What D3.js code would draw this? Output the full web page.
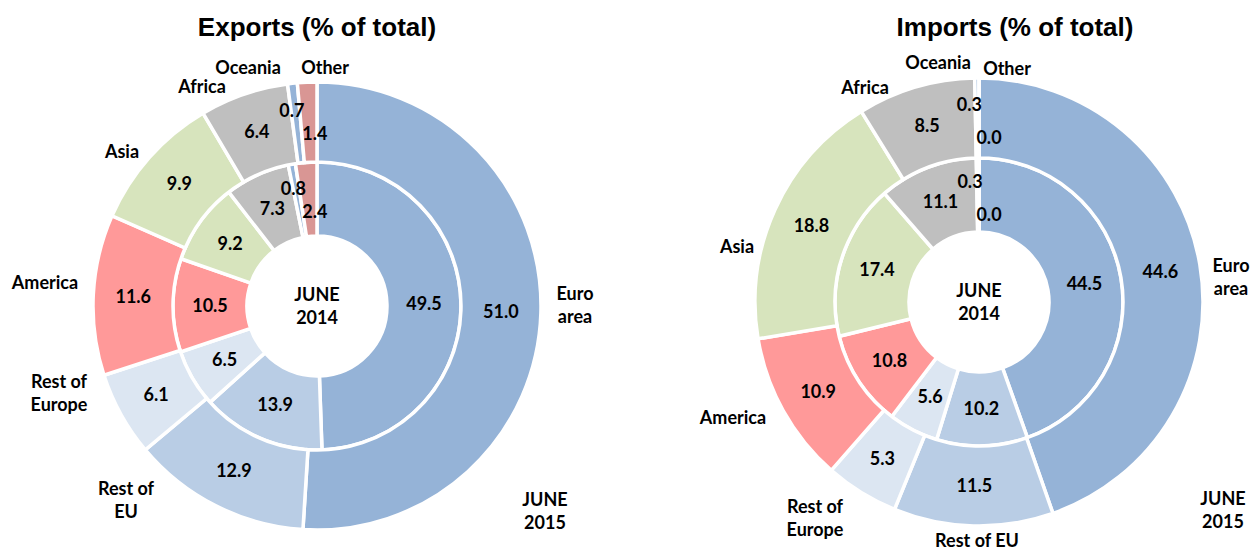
<!DOCTYPE html>
<html>
<head>
<meta charset="utf-8">
<script src="https://cdn.jsdelivr.net/npm/d3@7"></script>
<style>
  body { margin: 0; background: #fff; }
  text { font-family: Lato, "Open Sans", sans-serif; font-weight: bold; fill: #000; }
  .title { font-family: "Liberation Sans", Arial, sans-serif; font-size: 26px; }
</style>
</head>
<body>
<svg id="chart" width="1254" height="551"></svg>
<script>
// data
const categories = ['Euro area', 'Rest of EU', 'Rest of Europe', 'America', 'Asia', 'Africa', 'Oceania', 'Other'];
const exports2014 = [49.5, 13.9, 6.5, 10.5, 9.2, 7.3, 0.8, 2.4];
const exports2015 = [51.0, 12.9, 6.1, 11.6, 9.9, 6.4, 0.7, 1.4];
const imports2014 = [44.5, 10.2, 5.6, 10.8, 17.4, 11.1, 0.3, 0.0];
const imports2015 = [44.6, 11.5, 5.3, 10.9, 18.8, 8.5, 0.3, 0.0];
const exportNames = ['Euro\narea', 'Rest of\nEU', 'Rest of\nEurope', 'America', 'Asia', 'Africa', 'Oceania', 'Other'];
const importNames = ['Euro\narea', 'Rest of EU', 'Rest of\nEurope', 'America', 'Asia', 'Africa', 'Oceania', 'Other'];

const colors = ['#95b3d7', '#b9cde5', '#dce6f2', '#ff9999', '#d7e4bd', '#bfbfbf', '#95b3d7', '#d99694'];
const color = d3.scaleOrdinal().domain(categories).range(colors);

// layout (offsets of category labels from the chart centre)
const charts = [
  { title: 'Exports (% of total)', cx: 317, cy: 306, titleX: 317,
    inner: exports2014, outer: exports2015, names: exportNames,
    labelOff: [[258, -1], [-191, 194], [-258, 87], [-272, -23], [-195, -154], [-115, -219], [-69, -238], [8, -238]],
    yearOff: [228, 205],
    // small slices at the top get their value labels staggered
    nudge: { 'Oceania': [-5, -12], 'Other': [6, 12] } },
  { title: 'Imports (% of total)', cx: 979, cy: 302, titleX: 1015,
    inner: imports2014, outer: imports2015, names: importNames,
    labelOff: [[252, -25], [-2, 239], [-164, 216], [-246, 116], [-242, -55], [-114, -214], [-41, -239], [28, -233]],
    yearOff: [244, 208],
    nudge: { 'Oceania': [-8, -13], 'Other': [10, 20] } }
];

const rHole = 70, rMid = 144, rOuter = 224;
const lineH = 23;

const svg = d3.select('#chart');

const pie = d3.pie().sort(null).value(d => d.value);
const innerArc = d3.arc().innerRadius(rHole).outerRadius(rMid);
const outerArc = d3.arc().innerRadius(rMid).outerRadius(rOuter);

function multiText(g, x, y, str) {
  const lines = str.split('\n');
  const t = g.append('text')
    .attr('text-anchor', 'middle')
    .attr('font-size', 18);
  lines.forEach((l, i) => {
    t.append('tspan')
      .attr('x', x)
      .attr('y', y + (i - (lines.length - 1) / 2) * lineH)
      .attr('dy', '0.35em')
      .text(l);
  });
}

charts.forEach(c => {
  svg.append('text')
    .attr('class', 'title')
    .attr('x', c.titleX)
    .attr('y', 36)
    .attr('text-anchor', 'middle')
    .text(c.title);

  const g = svg.append('g').attr('transform', `translate(${c.cx},${c.cy})`);

  const rings = [
    { arc: innerArc, values: c.inner },
    { arc: outerArc, values: c.outer }
  ];

  rings.forEach(ring => {
    const slices = pie(ring.values.map((v, i) => ({ cat: categories[i], value: v })));
    g.append('g').selectAll('path')
      .data(slices)
      .enter().append('path')
        .attr('d', ring.arc)
        .attr('fill', d => color(d.data.cat))
        .attr('stroke', '#fff')
        .attr('stroke-width', 3.5)
        .attr('stroke-linejoin', 'miter');

    g.append('g').selectAll('text')
      .data(slices)
      .enter().append('text')
        .attr('transform', d => {
          const p = ring.arc.centroid(d);
          const n = c.nudge[d.data.cat] || [0, 0];
          return `translate(${p[0] + n[0]},${p[1] + n[1]})`;
        })
        .attr('text-anchor', 'middle')
        .attr('dy', '0.35em')
        .attr('font-size', 18)
        .text(d => d.data.value.toFixed(1));
  });

  c.names.forEach((n, i) => multiText(g, c.labelOff[i][0], c.labelOff[i][1], n));
  multiText(g, 0, 0, 'JUNE\n2014');
  multiText(g, c.yearOff[0], c.yearOff[1], 'JUNE\n2015');
});
</script>
</body>
</html>
